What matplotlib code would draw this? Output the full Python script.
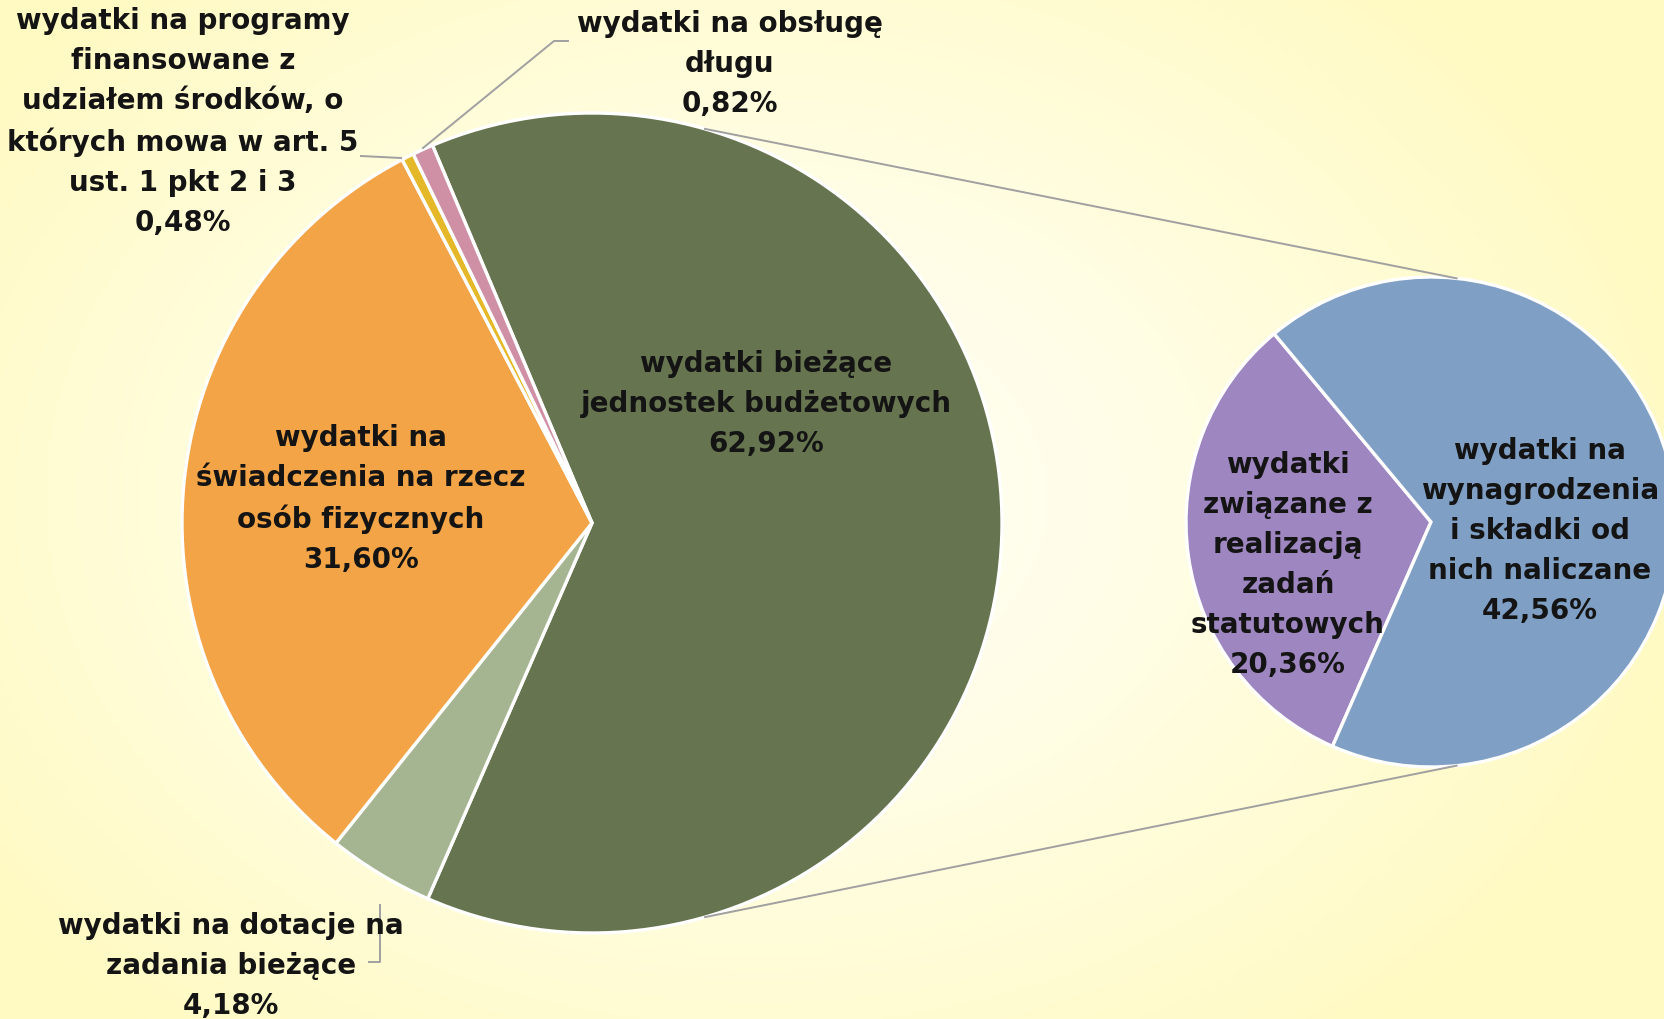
import numpy as np
import matplotlib

matplotlib.use("Agg")
import matplotlib.pyplot as plt

# ------------------------------------------------------------------ #
# Data
# ------------------------------------------------------------------ #
main_labels = [
    "wydatki bieżące\njednostek budżetowych",
    "wydatki na dotacje na\nzadania bieżące",
    "wydatki na\nświadczenia na rzecz\nosób fizycznych",
    "wydatki na programy\nfinansowane z\nudziałem środków, o\nktórych mowa w art. 5\nust. 1 pkt 2 i 3",
    "wydatki na obsługę\ndługu",
]
main_values = [62.92, 4.18, 31.60, 0.48, 0.82]
main_colors = ["#66754f", "#a5b592", "#f2a446", "#e4b828", "#cf8fa5"]

sub_labels = [
    "wydatki\nzwiązane z\nrealizacją\nzadań\nstatutowych",
    "wydatki na\nwynagrodzenia\ni składki od\nnich naliczane",
]
sub_values = [20.36, 42.56]
sub_colors = ["#9e86c0", "#7f9fc4"]

# ------------------------------------------------------------------ #
# Layout (pixel-like data coordinates, y up)
# ------------------------------------------------------------------ #
W, H = 1665, 1020
main_c, main_r = (592, 496), 410
sub_c, sub_r = (1431, 497), 245
main_start = 112.9
sub_start = 129.8

fig = plt.figure(figsize=(W / 100, H / 100), dpi=100)
ax = fig.add_axes([0, 0, 1, 1])

# background: soft radial gradient, pale centre -> light yellow edges
yy, xx = np.mgrid[0:H:4, 0:W:4]
d = np.hypot((xx - 760) / 950, (yy - 520) / 700)
t = np.clip(d, 0, 1) ** 1.3
c0 = np.array([255, 255, 246]) / 255
c1 = np.array([255, 250, 194]) / 255
bg = c0[None, None, :] * (1 - t[..., None]) + c1[None, None, :] * t[..., None]
ax.imshow(bg, extent=(0, W, 0, H), origin="lower", zorder=0, aspect="auto")

wedge_kw = dict(edgecolor="white", linewidth=2.4)
ax.pie(main_values, colors=main_colors, startangle=main_start, counterclock=False,
       center=main_c, radius=main_r, wedgeprops=wedge_kw, frame=True)
ax.pie(sub_values, colors=sub_colors, startangle=sub_start, counterclock=True,
       center=sub_c, radius=sub_r, wedgeprops=wedge_kw, frame=True)
ax.set_xlim(0, W)
ax.set_ylim(0, H)
ax.set_aspect("equal")
ax.axis("off")

# connector lines between the two pies
for sgn in (1, -1):
    a1, a2 = np.radians(74 * sgn), np.radians(84 * sgn)
    p1 = (main_c[0] + main_r * np.cos(a1), main_c[1] + main_r * np.sin(a1))
    p2 = (sub_c[0] + sub_r * np.cos(a2), sub_c[1] + sub_r * np.sin(a2))
    ax.plot([p1[0], p2[0]], [p1[1], p2[1]], color="#a0a0a0", lw=1.4, zorder=1)

txt = dict(fontsize=20, fontweight="bold", color="#141414", ha="center",
           va="center", linespacing=1.55, family="DejaVu Sans", zorder=5)


def pct(v):
    return f"{v:.2f}".replace(".", ",") + "%"


# label positions (x, y) in figure pixels, y down
main_pos = [(766, 404), (231, 966), (361, 499), (183, 122), (730, 64)]
sub_pos = [(1288, 565), (1540, 531)]

for lab, v, (x, y) in zip(main_labels, main_values, main_pos):
    ax.text(x, H - y, f"{lab}\n{pct(v)}", **txt)
for lab, v, (x, y) in zip(sub_labels, sub_values, sub_pos):
    ax.text(x, H - y, f"{lab}\n{pct(v)}", **txt)

# leader lines for the outside labels
lead = dict(color="#a0a0a0", lw=1.4, zorder=4)
ax.plot([361, 401], [H - 157, H - 159], **lead)
ax.plot([423, 554, 568], [H - 149, H - 42, H - 42], **lead)
ax.plot([380, 380, 369], [H - 906, H - 963, H - 963], **lead)

fig.savefig("out.png", dpi=100)
